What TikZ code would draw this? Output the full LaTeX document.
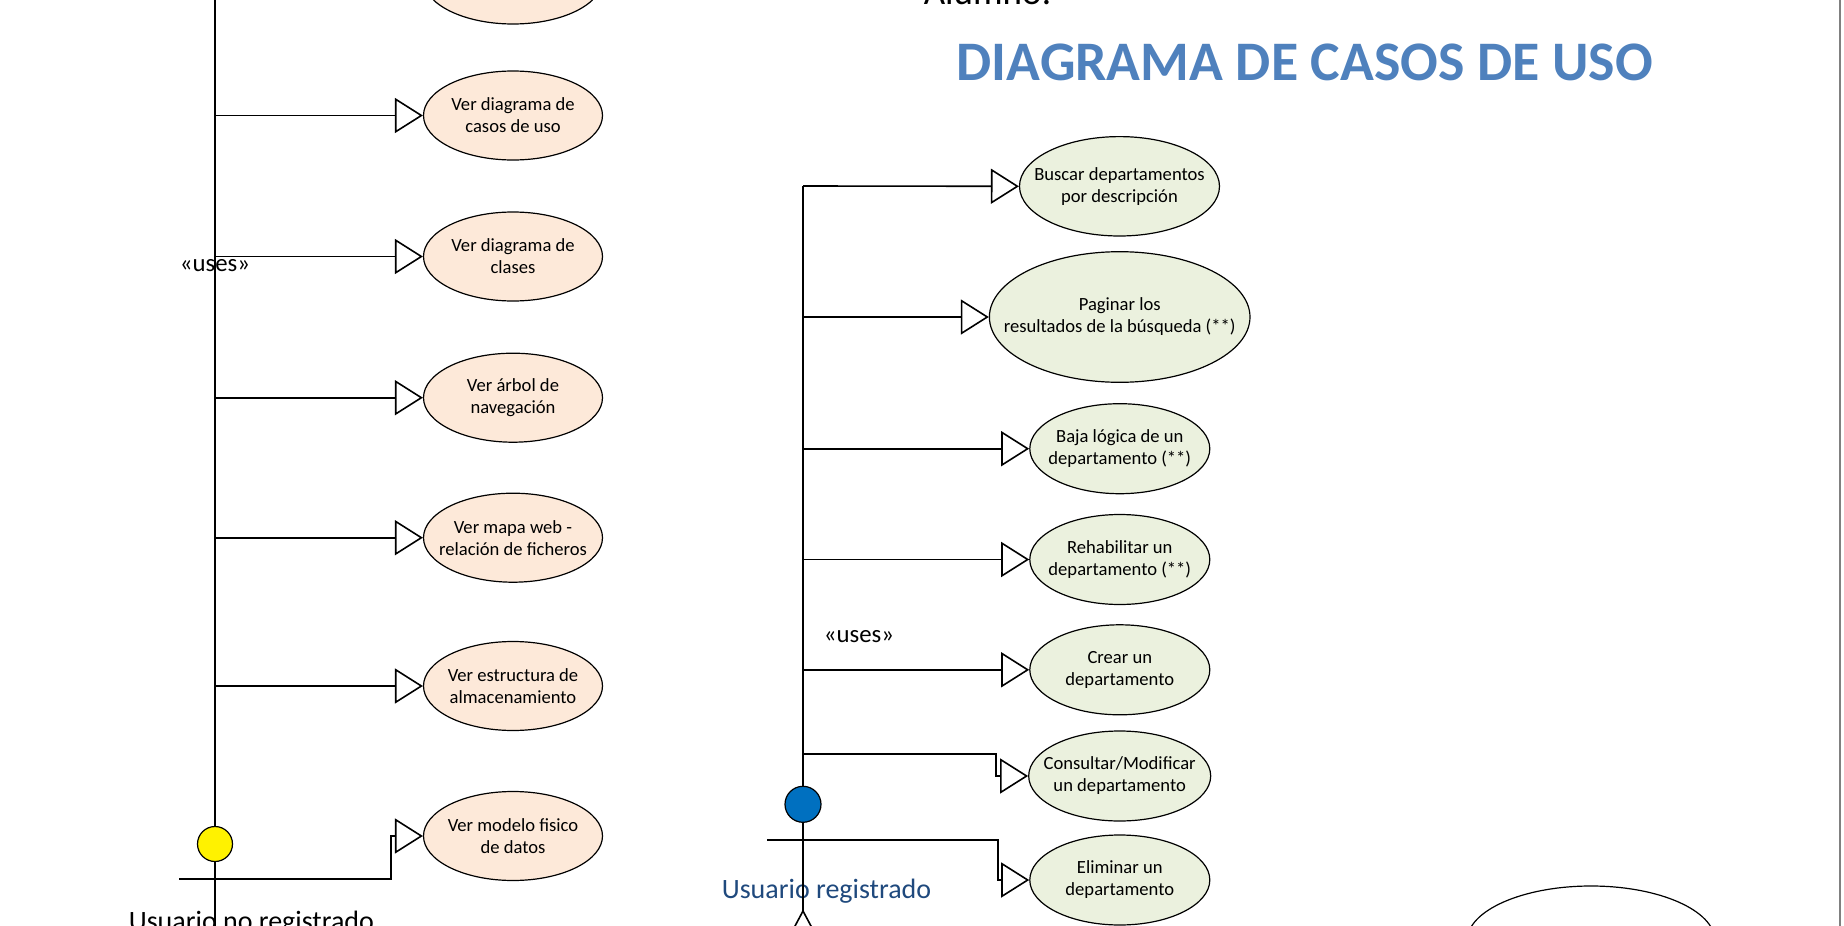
\documentclass[tikz,border=0pt]{standalone}
\usepackage{fontspec}
\setmainfont{Carlito}
\usepackage{tikz}
\usetikzlibrary{arrows.meta,shapes.geometric}
\definecolor{peach}{HTML}{FDE9D9}
\definecolor{sage}{HTML}{EBF1DE}
\definecolor{ttlblue}{HTML}{4F81BD}
\definecolor{usrblue}{HTML}{1F497D}
\definecolor{headblue}{HTML}{0070C0}

\begin{document}
\begin{tikzpicture}[x=0.5pt, y=-0.5pt, line width=0.8pt,
  every node/.style={font=\fontsize{9.3}{11}\selectfont},
  uc/.style={draw, ellipse, line width=0.6pt, inner sep=0pt},
  ucL/.style={uc, fill=peach, minimum width=89.5pt, minimum height=44.5pt},
  ucR/.style={uc, fill=sage, minimum width=90pt, minimum height=45pt},
  actor/.style={circle, draw, line width=0.6pt, inner sep=0pt, minimum size=17.5pt},
  lbl/.style={inner sep=0pt, anchor=base west},
  stereo/.style={font=\fontsize{12.4}{14}\selectfont},
  uses/.style={-{Triangle[open, length=14pt, width=17.5pt]}}]
\useasboundingbox (0,0) rectangle (1844,926);

% titles
\node[lbl, font=\fontsize{18.5}{20}\selectfont] (alumno) at (923,4) {Alumno:};
\node[lbl, font=\fontsize{27.9}{30}\selectfont\bfseries, text=ttlblue] (title) at (956,80) {DIAGRAMA DE CASOS DE USO};

% usuario no registrado
\node[ucL] (otro) at (513,-20.5) {};
\node[ucL, label={[align=center]center:{Ver diagrama de\\casos de uso}}] (casos) at (513,115.5) {};
\node[ucL, label={[align=center]center:{Ver diagrama de\\clases}}] (clases) at (513,256.5) {};
\node[ucL, label={[align=center]center:{Ver árbol de\\navegación}}] (arbol) at (513,397.7) {};
\node[ucL, label={[align=center]center:{Ver mapa web -\\relación de ficheros}}] (mapa) at (513,537.7) {};
\node[ucL, label={[align=center]center:{Ver estructura de\\almacenamiento}}] (almac) at (513,686) {};
\node[ucL, label={[align=center]center:{Ver modelo fisico\\de datos}}] (fisico) at (513,836) {};

\node[actor, fill=yellow] (headL) at (215,844) {};
\coordinate (spineL) at (215,-30);
\coordinate (footL) at (215,950);
\coordinate (armL) at (179,879);
\node[stereo] (usesL) at (215,266) {«uses»};
\node[lbl, font=\fontsize{14}{16}\selectfont] (noreg) at (128,930) {Usuario no registrado};

\draw (spineL) -- (headL.north); \draw (headL.south) -- (footL);
\draw[uses] (spineL |- casos) -- (casos.west); \draw[uses] (spineL |- clases) -- (clases.west);
\draw[uses] (spineL |- arbol) -- (arbol.west); \draw[uses] (spineL |- mapa) -- (mapa.west);
\draw[uses] (spineL |- almac) -- (almac.west);
\draw[uses] (armL) -- ++(212,0) |- (fisico.west);

% usuario registrado
\node[ucR, minimum width=100pt, minimum height=49.7pt, label={[align=center]center:{Buscar departamentos\\por descripción}}] (buscar) at (1119.5,186.3) {};
\node[ucR, minimum width=130.3pt, minimum height=65.3pt, label={[align=center]center:{Paginar los\\resultados de la búsqueda (**)}}] (paginar) at (1119.7,317) {};
\node[ucR, label={[align=center]center:{Baja lógica de un\\departamento (**)}}] (baja) at (1119.8,448.7) {};
\node[ucR, label={[align=center]center:{Rehabilitar un\\departamento (**)}}] (rehab) at (1119.8,559.5) {};
\node[ucR, label={[align=center]center:{Crear un\\departamento}}] (crear) at (1119.8,669.8) {};
\node[ucR, minimum width=91pt, label={[align=center]center:{Consultar/Modificar\\un departamento}}] (consul) at (1119.7,776) {};
\node[ucR, label={[align=center]center:{Eliminar un\\departamento}}] (elim) at (1119.8,880) {};
\node[uc, minimum width=124pt, minimum height=55pt] (sesion) at (1591,941) {};

\node[actor, fill=headblue, minimum size=18pt] (headR) at (803,804.3) {};
\coordinate (spineR) at (803,186);
\coordinate (bendC) at (803,754);
\coordinate (hipR) at (803,911);
\coordinate (armR) at (767,840);
\node[stereo] (usesR) at (859,637) {«uses»};
\node[lbl, font=\fontsize{14}{16}\selectfont, text=usrblue] (reg) at (721,898) {Usuario registrado};

\draw (spineR) -- (headR.north); \draw (headR.south) -- (hipR) -- ++(-16,30) (hipR) -- ++(16,30);
\draw[uses] (spineR) -- (buscar.west); \draw[uses] (spineR |- paginar) -- (paginar.west);
\draw[uses] (spineR |- baja) -- (baja.west); \draw[uses] (spineR |- rehab) -- (rehab.west);
\draw[uses] (spineR |- crear) -- (crear.west);
\draw[uses] (bendC) -- ++(192.8,0) |- (consul.west);
\draw[uses] (armR) -- ++(230.7,0) |- (elim.west);

% page edge
\draw[line width=0.6pt, gray] (1840,0) -- (1840,926);
\end{tikzpicture}
\end{document}
